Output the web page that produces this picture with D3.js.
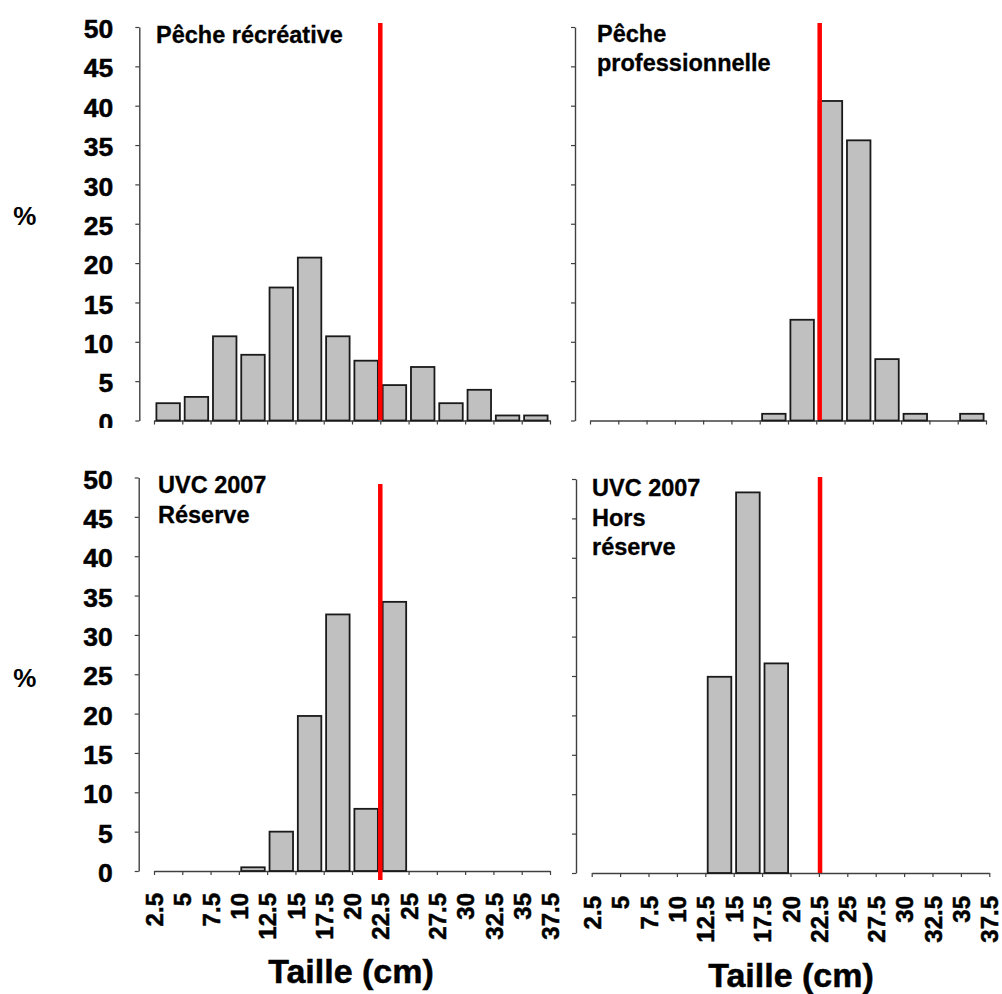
<!DOCTYPE html>
<html>
<head>
<meta charset="utf-8">
<script src="https://cdn.jsdelivr.net/npm/d3@7"></script>
<style>
  html, body { margin: 0; padding: 0; background: #fff; }
  svg { display: block; font-family: "Liberation Sans", Arial, sans-serif; font-weight: bold; }
</style>
</head>
<body>
<svg id="chart" width="1002" height="994"></svg>
<script>
// ---- data ----
const binEdges = [2.5, 5, 7.5, 10, 12.5, 15, 17.5, 20, 22.5, 25, 27.5, 30, 32.5, 35, 37.5];
const xTickLabels = ["2.5", "5", "7.5", "10", "12.5", "15", "17.5", "20", "22.5", "25", "27.5", "30", "32.5", "35", "37.5"];
const yTicks = [0, 5, 10, 15, 20, 25, 30, 35, 40, 45, 50];
const recreational = [2.2, 3.0, 10.7, 8.35, 16.9, 20.7, 10.7, 7.6, 4.5, 6.8, 2.2, 3.9, 0.64, 0.64];
const professional = [0, 0, 0, 0, 0, 0, 0.85, 12.8, 40.6, 35.6, 7.8, 0.85, 0, 0.85];
const uvcReserve = [0, 0, 0, 0.47, 5.0, 19.7, 32.6, 7.9, 34.2, 0, 0, 0, 0, 0];
const uvcOutside = [0, 0, 0, 0, 24.9, 48.3, 26.6, 0, 0, 0, 0, 0, 0, 0];
const panelTitles = [["Pêche récréative"], ["Pêche", "professionnelle"], ["UVC 2007", "Réserve"], ["UVC 2007", "Hors", "réserve"]];
const minSize = [22.5, 22.8, 22.5, 22.6];
const yLabel = "%";
const xLabel = "Taille (cm)";

// ---- layout ----
const panels = [
  { values: recreational, title: panelTitles[0], red: minSize[0], yAxisX: 139.3, xr: [154, 550], yr: [420.5, 27], titleX: 156, titleY: 43, lh: 29, redY: [23, 420], yLabels: true, xLabels: false, clipY: 428 },
  { values: professional, title: panelTitles[1], red: minSize[1], yAxisX: 575, xr: [590, 986], yr: [420.5, 27], titleX: 597, titleY: 42, lh: 29, redY: [23, 420], yLabels: false, xLabels: false },
  { values: uvcReserve, title: panelTitles[2], red: minSize[2], yAxisX: 138.7, xr: [154, 550], yr: [871, 477.5], titleX: 158, titleY: 493, lh: 30, redY: [484, 880], yLabels: true, xLabels: true, xLabTop: 893, axisTitleX: 351, axisTitleY: 983 },
  { values: uvcOutside, title: panelTitles[3], red: minSize[3], yAxisX: 576, xr: [591.7, 989.3], yr: [873, 479], titleX: 592, titleY: 496, lh: 29.5, redY: [477, 873], yLabels: false, xLabels: true, xLabTop: 896, axisTitleX: 791, axisTitleY: 987 }
];

const svg = d3.select("#chart");
const axisColor = "#404040";
const FONT = "Liberation Sans, Arial, sans-serif";

panels.forEach((p, pi) => {
  const x = d3.scaleLinear().domain([binEdges[0], binEdges[binEdges.length - 1]]).range(p.xr);
  const y = d3.scaleLinear().domain([0, 50]).range(p.yr);
  const g = svg.append("g");

  // y axis
  const yAxis = d3.axisLeft(y).tickValues(yTicks).tickSize(4).tickSizeOuter(0).tickPadding(22)
    .tickFormat(p.yLabels ? d3.format("d") : () => "");
  const ya = g.append("g").attr("transform", `translate(${p.yAxisX},0)`).call(yAxis);
  ya.select(".domain").attr("stroke", axisColor).attr("stroke-width", 1.4);
  ya.selectAll(".tick line").attr("stroke", axisColor).attr("stroke-width", 1.2);
  ya.selectAll(".tick text").attr("fill", "#000").attr("font-size", 26.5).attr("font-weight", "bold")
    .attr("font-family", FONT).attr("dy", "0.4em")
    .attr("stroke", "#000").attr("stroke-width", 0.5);
  if (p.clipY) {
    const cid = "clip" + pi;
    svg.append("clipPath").attr("id", cid).attr("clipPathUnits", "userSpaceOnUse")
      .append("rect").attr("x", -p.yAxisX).attr("y", 0).attr("width", 1002).attr("height", p.clipY);
    ya.attr("clip-path", `url(#${cid})`);
  }

  // x axis
  const xAxis = d3.axisBottom(x).tickValues(binEdges).tickSize(4).tickSizeOuter(0)
    .tickFormat((d, i) => p.xLabels ? xTickLabels[i] : "");
  const xAxisY = p.yr[0];
  const xa = g.append("g").attr("transform", `translate(0,${xAxisY})`).call(xAxis);
  xa.select(".domain").attr("stroke", axisColor).attr("stroke-width", 1.4);
  xa.selectAll(".tick line").attr("stroke", axisColor).attr("stroke-width", 1.2);
  xa.selectAll(".tick text").attr("fill", "#000").attr("font-size", 24).attr("font-weight", "bold")
    .attr("font-family", FONT)
    .attr("stroke", "#000").attr("stroke-width", 0.5)
    .attr("transform", "rotate(-90)").attr("text-anchor", "end")
    .attr("x", p.xLabels ? -(p.xLabTop - xAxisY) : 0).attr("y", 0).attr("dy", "0.36em");

  // bars
  const bins = p.values.map((v, i) => ({ v, x0: binEdges[i], x1: binEdges[i + 1] })).filter(d => d.v > 0);
  g.append("g").selectAll("rect").data(bins).join("rect")
    .attr("x", d => x(d.x0) + 2.4)
    .attr("width", d => x(d.x1) - x(d.x0) - 4.8)
    .attr("y", d => y(d.v))
    .attr("height", d => y(0) - y(d.v))
    .attr("fill", "#c0c0c0")
    .attr("stroke", "#1a1a1a")
    .attr("stroke-width", 1.8);

  // red minimum-size line
  g.append("line")
    .attr("x1", x(p.red)).attr("x2", x(p.red))
    .attr("y1", p.redY[0]).attr("y2", p.redY[1])
    .attr("stroke", "#ff0000").attr("stroke-width", 4.5);

  // title
  const t = g.append("text").attr("x", p.titleX).attr("y", p.titleY)
    .attr("font-size", 23.5).attr("font-weight", "bold").attr("fill", "#000")
    .attr("stroke", "#000").attr("stroke-width", 0.3);
  p.title.forEach((line, li) => {
    t.append("tspan").attr("x", p.titleX).attr("y", p.titleY + li * p.lh).text(line);
  });

  // axis title
  if (p.axisTitleX) {
    g.append("text").attr("x", p.axisTitleX).attr("y", p.axisTitleY)
      .attr("text-anchor", "middle").attr("font-size", 34).attr("font-weight", "bold")
      .attr("stroke", "#000").attr("stroke-width", 0.5).text(xLabel);
  }
});

// % labels
[225, 687].forEach(yy => {
  svg.append("text").attr("x", 24.7).attr("y", yy).attr("text-anchor", "middle")
    .attr("font-size", 26).attr("font-weight", "bold").text(yLabel);
});
</script>
</body>
</html>
